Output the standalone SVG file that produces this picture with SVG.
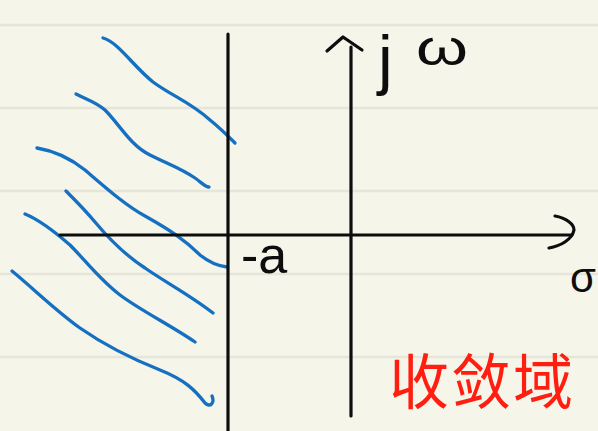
<svg xmlns="http://www.w3.org/2000/svg" width="598" height="431" viewBox="0 0 598 431">
<style>
.rule{stroke:#e6e5d9;stroke-width:2.5;fill:none}
.ax{stroke:#0d0d0d;stroke-width:3.2;fill:none;stroke-linecap:round;stroke-linejoin:round}
.hat{stroke:#1570c2;stroke-width:3.3;fill:none;stroke-linecap:round;stroke-linejoin:round}
.lbl{font-family:"Liberation Sans","DejaVu Sans",sans-serif;fill:#0d0d0d}
.red{font-family:"Noto Sans CJK SC",sans-serif;fill:#ff1e10}
</style>
<rect width="598" height="431" fill="#f6f5ea"/>
<g id="rules">
<line class="rule" x1="0" y1="25" x2="598" y2="25"/>
<line class="rule" x1="0" y1="108" x2="598" y2="108"/>
<line class="rule" x1="0" y1="191" x2="598" y2="191"/>
<line class="rule" x1="0" y1="274" x2="598" y2="274"/>
<line class="rule" x1="0" y1="357" x2="598" y2="357"/>
</g>
<g id="hatching">
<path class="hat" d="M103,38 C118,42 133,66 153,82 C172,96 190,102 210,120 C220,128 228,136 235,143"/>
<path class="hat" d="M76,94 C88,100 96,102 105,110 C120,125 130,145 150,155 C170,165 180,168 195,178 C202,183 205,187 209,187"/>
<path class="hat" d="M37,148 C55,151 70,158 85,170 C105,187 125,205 145,216 C170,230 185,240 200,255 C210,263 218,266 227,267"/>
<path class="hat" d="M66,191 C75,200 85,210 95,222 C110,240 125,255 145,268 C165,282 190,295 213,313"/>
<path class="hat" d="M25,214 C40,220 55,232 70,245 C85,260 100,280 120,295 C140,310 170,325 195,342"/>
<path class="hat" d="M12,271 C35,290 55,310 80,328 C100,342 130,358 160,370 C185,380 195,390 205,403 C210,408 215,403 212,396"/>
</g>
<g id="connectors">
<line class="ax" x1="228" y1="34" x2="228" y2="431"/>
<line class="ax" x1="60" y1="235" x2="572" y2="235"/>
<path class="ax" d="M555,216 C566,218 574,224 574,230 C572,240 560,246 549,248"/>
<line class="ax" x1="351" y1="47" x2="351" y2="416"/>
<path class="ax" d="M327,51 L343,37 L362,50"/>
</g>
<g id="labels">
<text class="lbl" x="378" y="82" font-size="66">j</text>
<text class="lbl" x="416" y="65" font-size="50" textLength="52" lengthAdjust="spacingAndGlyphs">ω</text>
<text class="lbl" x="241" y="273" font-size="52">-a</text>
<text class="lbl" x="570" y="292" font-size="42">σ</text>
<text class="red" x="389" y="404" font-size="60" letter-spacing="2">收敛域</text>
</g>
</svg>
